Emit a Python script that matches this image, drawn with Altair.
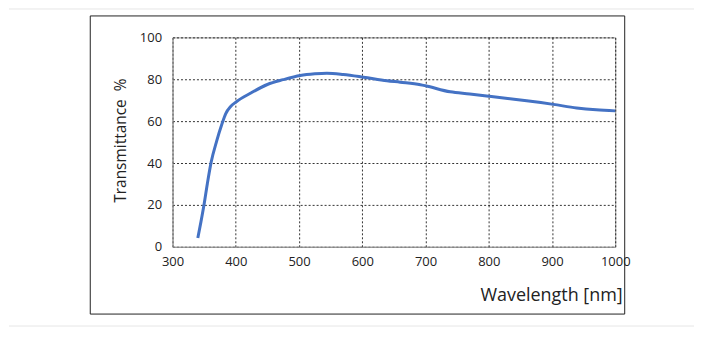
import altair as alt
import pandas as pd

wavelength = [340, 345, 350, 355, 361, 370, 378, 384, 392, 402, 423, 450, 475, 502,
              525, 544, 570, 602, 639, 660, 692, 700, 739, 770, 800, 830, 860, 902,
              939, 970, 1000]
transmittance = [4.2, 12, 20.4, 30, 40.3, 50.7, 58.5, 63.5, 67, 69.5, 73.3, 77.5, 79.8,
                 81.8, 82.6, 82.9, 82.3, 81.0, 79.3, 78.6, 77.4, 76.9, 74.0, 73.0, 71.9,
                 70.8, 69.7, 68.0, 66.3, 65.4, 64.9]
x_ticks = [300, 400, 500, 600, 700, 800, 900, 1000]
y_ticks = [0, 20, 40, 60, 80, 100]

df = pd.DataFrame({"wl": wavelength, "t": transmittance})
one = pd.DataFrame({"a": [0]})

W, H = 444, 210
FONT = "Open Sans"

line = alt.Chart(df).mark_line(
    color="#4472C4", strokeWidth=3, interpolate="monotone"
).encode(
    x=alt.X("wl:Q", scale=alt.Scale(domain=[300, 1000], nice=False, zero=False),
            axis=alt.Axis(values=x_ticks, format="d", labelFlush=False,
                          title="Wavelength [nm]",
                          titleAnchor="end", titleAlign="right", titleX=451, titleY=54,
                          titleBaseline="alphabetic", titleFontSize=18,
                          labelPadding=9)),
    y=alt.Y("t:Q", scale=alt.Scale(domain=[0, 100], nice=False),
            axis=alt.Axis(values=y_ticks, format="d", labelFlush=False,
                          title="Transmittance\u00a0\u00a0%",
                          titleAngle=270, titleX=-52, titleY=140 - 37,
                          titleAlign="center", titleBaseline="middle",
                          titleFontSize=15.5, labelPadding=11)),
)

top_rule = alt.Chart(one).mark_rule(color="#e6e6e6", strokeWidth=1).encode(
    x=alt.value(-164), x2=alt.value(523), y=alt.value(-28.5))
bot_rule = alt.Chart(one).mark_rule(color="#e6e6e6", strokeWidth=1).encode(
    x=alt.value(-164), x2=alt.value(523), y=alt.value(289.5))
box = alt.Chart(one).mark_rect(fillOpacity=0, stroke="#222222", strokeWidth=1).encode(
    x=alt.value(-82.5), x2=alt.value(453.5), y=alt.value(-21.5), y2=alt.value(277.5))

chart = alt.layer(top_rule, bot_rule, box, line).properties(
    width=W, height=H, padding=0, background="white"
).configure_view(
    stroke="#999999", strokeWidth=1
).configure_axis(
    grid=True, gridColor="#000000", gridDash=[2, 2], gridWidth=1, gridOpacity=0.8,
    domainColor="#999999", domainWidth=1, ticks=False, tickSize=0,
    labelFont=FONT, labelFontSize=13, labelColor="#222222",
    titleFont=FONT, titleFontWeight="normal", titleColor="#222222",
)

chart.save("out.html", embed_options={"renderer": "svg", "actions": False})
